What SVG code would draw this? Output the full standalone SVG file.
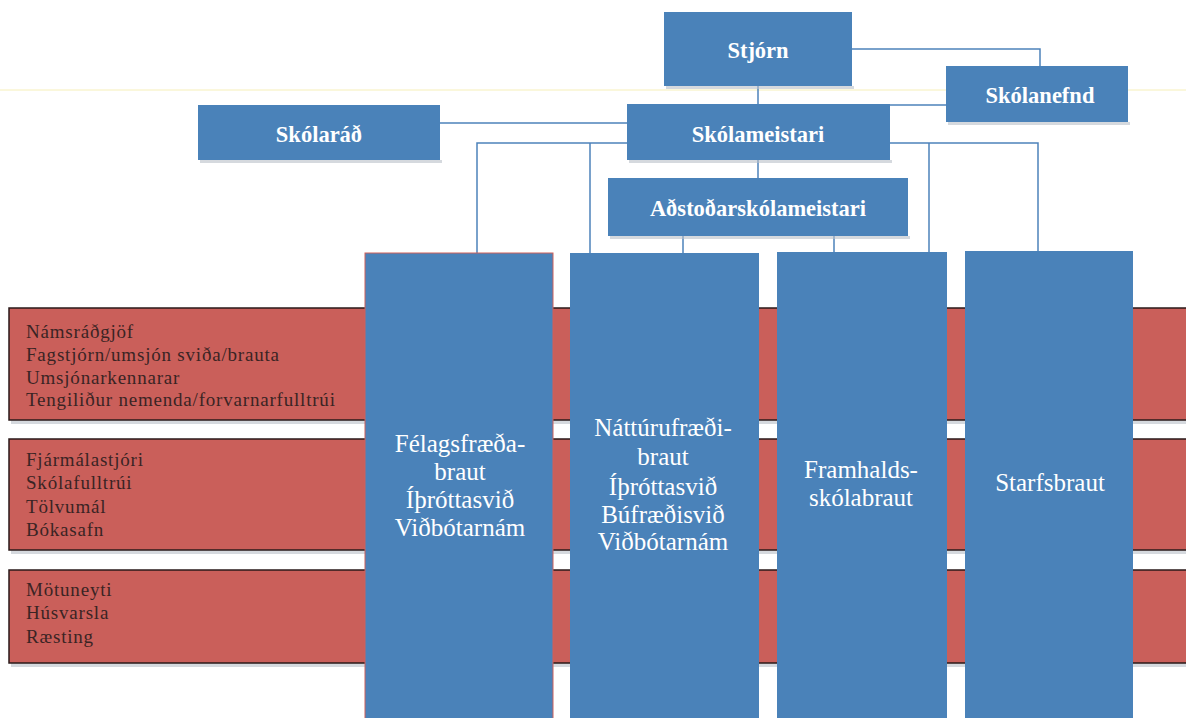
<svg xmlns="http://www.w3.org/2000/svg" width="1186" height="718" viewBox="0 0 1186 718">
<defs>
<style>
.box{fill:#4a82b9}
.band{fill:#ca5f5a;stroke:#2a1a1a;stroke-width:1.5}
.shadow{fill:#b9bfc8;opacity:0.6}
.conn{fill:none;stroke:#4d82ba;stroke-width:1.5}
.t{font-family:"Liberation Serif","Times New Roman",serif;fill:#ffffff;text-anchor:middle;font-weight:bold;font-size:22.5px}
.c{font-family:"Liberation Serif","Times New Roman",serif;fill:#ffffff;text-anchor:middle;font-size:25px}
.b{font-family:"Liberation Serif","Times New Roman",serif;fill:#3a2424;font-size:19px;letter-spacing:0.8px}
</style>
</defs>
<rect width="1186" height="718" fill="#ffffff"/>
<line x1="0" y1="90" x2="1186" y2="90" stroke="#f6efb8" stroke-width="1"/>

<g id="bands">
<g id="band1">
<rect class="shadow" x="11" y="420" width="1180" height="4"/>
<rect class="band" x="9" y="308" width="1180" height="112"/>
<text class="b" x="26" y="338">Námsráðgjöf</text>
<text class="b" x="26" y="361">Fagstjórn/umsjón sviða/brauta</text>
<text class="b" x="26" y="384">Umsjónarkennarar</text>
<text class="b" x="26" y="406">Tengiliður nemenda/forvarnarfulltrúi</text>
</g>
<g id="band2">
<rect class="shadow" x="11" y="550" width="1180" height="4"/>
<rect class="band" x="9" y="439" width="1180" height="111"/>
<text class="b" x="26" y="466">Fjármálastjóri</text>
<text class="b" x="26" y="489">Skólafulltrúi</text>
<text class="b" x="26" y="513">Tölvumál</text>
<text class="b" x="26" y="536">Bókasafn</text>
</g>
<g id="band3">
<rect class="shadow" x="11" y="663" width="1180" height="4"/>
<rect class="band" x="9" y="570" width="1180" height="93"/>
<text class="b" x="26" y="596">Mötuneyti</text>
<text class="b" x="26" y="619">Húsvarsla</text>
<text class="b" x="26" y="643">Ræsting</text>
</g>
</g>

<g id="connectors">
<path class="conn" d="M852 49 H1040 V66"/>
<path class="conn" d="M758 86 V104"/>
<path class="conn" d="M890 105 H946"/>
<path class="conn" d="M440 123 H627"/>
<path class="conn" d="M627 143 H477 V253"/>
<path class="conn" d="M590 143 V253"/>
<path class="conn" d="M890 143 H1038 V251"/>
<path class="conn" d="M929 143 V252"/>
<path class="conn" d="M758 160 V178"/>
<path class="conn" d="M683 236 V253"/>
<path class="conn" d="M834 236 V252"/>
</g>

<g id="stjorn">
<rect class="shadow" x="666" y="86" width="188" height="3"/>
<rect class="box" x="664" y="12" width="188" height="74"/>
<text class="t" x="758" y="58">Stjórn</text>
</g>
<g id="skolanefnd">
<rect class="shadow" x="948" y="122" width="182" height="3"/>
<rect class="box" x="946" y="66" width="182" height="56"/>
<text class="t" x="1040" y="103">Skólanefnd</text>
</g>
<g id="skolaraad">
<rect class="shadow" x="200" y="160" width="242" height="3"/>
<rect class="box" x="198" y="105" width="242" height="55"/>
<text class="t" x="319" y="142">Skólaráð</text>
</g>
<g id="skolameistari">
<rect class="shadow" x="629" y="160" width="263" height="3"/>
<rect class="box" x="627" y="104" width="263" height="56"/>
<text class="t" x="758" y="142">Skólameistari</text>
</g>
<g id="adstodarskolameistari">
<rect class="shadow" x="610" y="236" width="300" height="3"/>
<rect class="box" x="608" y="178" width="300" height="58"/>
<text class="t" x="758" y="216">Aðstoðarskólameistari</text>
</g>

<g id="felagsfraeda">
<rect class="box" x="365" y="253" width="188" height="470" stroke="#d0605a" stroke-width="1"/>
<text class="c" x="460" y="452">Félagsfræða-</text>
<text class="c" x="460" y="480">braut</text>
<text class="c" x="460" y="508">Íþróttasvið</text>
<text class="c" x="460" y="536">Viðbótarnám</text>
</g>
<g id="natturufraedi">
<rect class="box" x="570" y="253" width="189" height="470"/>
<text class="c" x="663" y="436">Náttúrufræði-</text>
<text class="c" x="663" y="465">braut</text>
<text class="c" x="663" y="495">Íþróttasvið</text>
<text class="c" x="663" y="523">Búfræðisvið</text>
<text class="c" x="663" y="550">Viðbótarnám</text>
</g>
<g id="framhalds">
<rect class="box" x="777" y="252" width="170" height="470"/>
<text class="c" x="861" y="478">Framhalds-</text>
<text class="c" x="861" y="506">skólabraut</text>
</g>
<g id="starfsbraut">
<rect class="box" x="965" y="251" width="168" height="470"/>
<text class="c" x="1050" y="491">Starfsbraut</text>
</g>
</svg>
